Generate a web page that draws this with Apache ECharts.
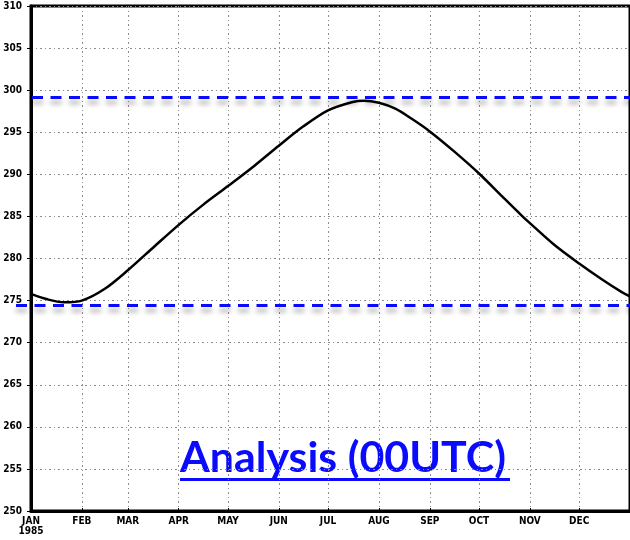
<!DOCTYPE html>
<html>
<head>
<meta charset="utf-8">
<script src="https://cdn.jsdelivr.net/npm/echarts@6/dist/echarts.min.js"></script>
<style>
  html, body { margin: 0; padding: 0; background: #fff; }
  #chart { width: 630px; height: 540px; }
</style>
</head>
<body>
<div id="chart"></div>
<script>
// Day of year (1985) for each sample of the annual cycle
const days  = [0, 10, 20, 31, 45, 59, 75, 90, 105, 120, 136, 151, 166, 181, 196, 203, 212, 222, 232, 243, 258, 273, 288, 299, 304, 319, 334, 348, 360, 365];
// Temperature (K) at those days
const temps = [275.8, 275.15, 274.8, 275.0, 276.4, 278.6, 281.4, 284.0, 286.4, 288.6, 291.0, 293.4, 295.7, 297.6, 298.6, 298.75, 298.5, 297.8, 296.6, 295.1, 292.7, 290.1, 287.2, 285.1, 284.2, 281.6, 279.4, 277.5, 276.0, 275.5];

// Month starts and their tick labels
const monthStarts = [0, 31, 59, 90, 120, 151, 181, 212, 243, 273, 304, 334];
const monthNames  = ['JAN', 'FEB', 'MAR', 'APR', 'MAY', 'JUN', 'JUL', 'AUG', 'SEP', 'OCT', 'NOV', 'DEC'];
const yearLabel = '1985';

// Reference levels (dashed blue)
const upperLevel = 299.1;
const lowerLevel = 274.45;

const titleText = 'Analysis (00UTC)';

const chart = echarts.init(document.getElementById('chart'), null, { renderer: 'canvas' });

const gridDash = { color: '#8c8c8c', width: 1, type: [2, 3, 1, 3] };
const labelFont = { fontFamily: 'DejaVu Sans Condensed', fontSize: 10, fontWeight: 'bold', color: '#000' };

// Title text is condensed to a fixed width
const titleFont = 'bold 42px Lato';
const measure = document.createElement('canvas').getContext('2d');
measure.font = titleFont;
const titleWidth = measure.measureText(titleText).width;
const targetWidth = 326;
const sx = targetWidth / titleWidth;

const blueDash = {
  color: '#0a0aff', width: 3, type: [11, 7.5],
  shadowColor: 'rgba(0,0,0,0.35)', shadowBlur: 5, shadowOffsetY: 5
};

chart.setOption({
  animation: false,
  grid: {
    left: 31, top: 6, right: -8, bottom: 29,
    show: true, borderColor: '#000', borderWidth: 3, backgroundColor: 'transparent'
  },
  xAxis: {
    type: 'value', min: 0, max: 365,
    axisLine: { show: true, onZero: false, lineStyle: { color: '#000', width: 3 } },
    axisTick: { show: true, inside: true, length: 3, customValues: monthStarts, lineStyle: { color: '#000', width: 1 } },
    axisLabel: Object.assign({
      customValues: monthStarts,
      margin: 5,
      lineHeight: 10,
      formatter: function (v) {
        const i = monthStarts.indexOf(v);
        if (i < 0) return '';
        return i === 0 ? monthNames[i] + '\n' + yearLabel : monthNames[i];
      }
    }, labelFont),
    splitLine: { show: true, lineStyle: gridDash }
  },
  yAxis: {
    type: 'value', min: 250, max: 310, interval: 5,
    axisLine: { show: true, onZero: false, lineStyle: { color: '#000', width: 3 } },
    axisTick: { show: true, length: 4, lineStyle: { color: '#000', width: 1 } },
    axisLabel: Object.assign({ margin: 9 }, labelFont),
    splitLine: { show: true, lineStyle: gridDash }
  },
  series: [{
    type: 'line',
    data: days.map((d, i) => [d, temps[i]]),
    smooth: 0.3,
    showSymbol: false,
    clip: false,
    lineStyle: { color: '#000', width: 2.5 },
    markLine: {
      silent: true,
      symbol: ['none', 'none'],
      label: { show: false },
      lineStyle: blueDash,
      data: [
        [{ x: 32, yAxis: upperLevel }, { x: 640, yAxis: upperLevel }],
        [{ x: 16, yAxis: lowerLevel }, { x: 640, yAxis: lowerLevel }]
      ]
    }
  }],
  graphic: [{
    type: 'group',
    left: 180, top: 437,
    children: [
      {
        type: 'text',
        x: 0, y: 0, scaleX: sx,
        style: { text: titleText, font: titleFont, fill: '#0a0aff' }
      },
      {
        type: 'rect',
        shape: { x: 0, y: 41, width: targetWidth + 4, height: 3 },
        style: { fill: '#0a0aff' }
      }
    ]
  }]
});
</script>
</body>
</html>
